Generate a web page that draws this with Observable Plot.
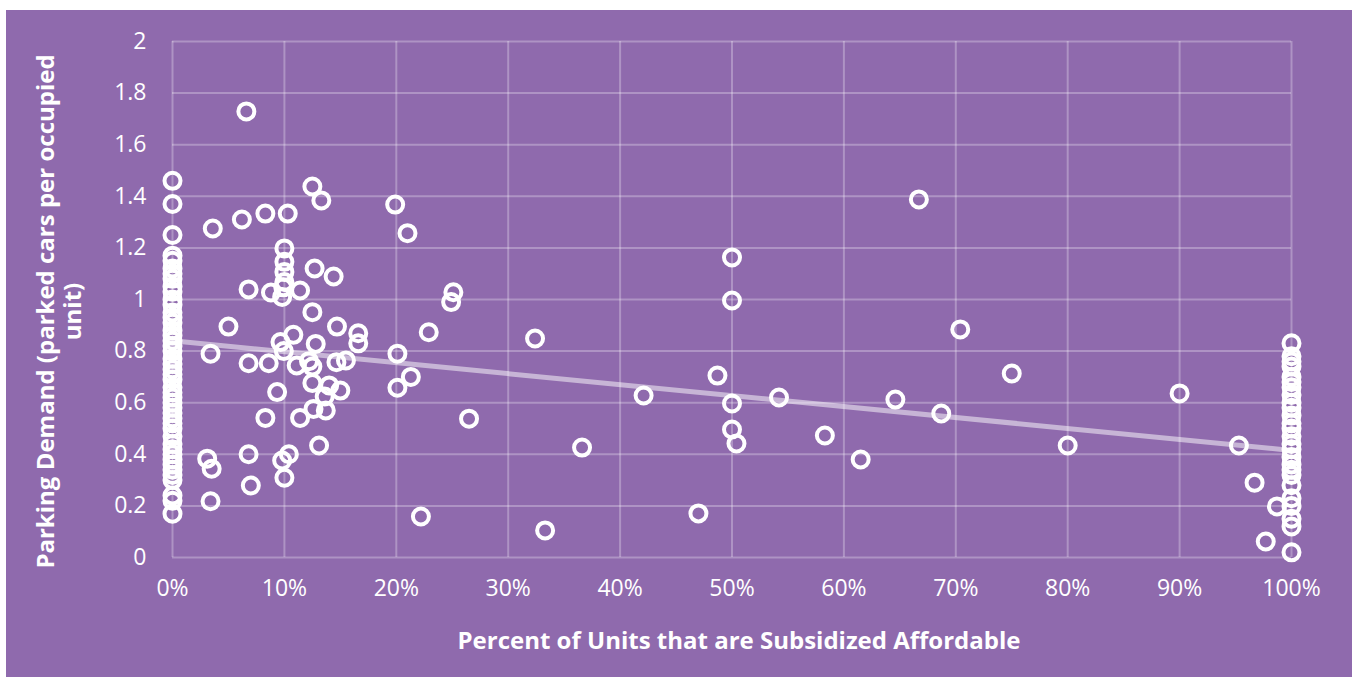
<!DOCTYPE html>
<html><head><meta charset="utf-8">
<script src="https://cdn.jsdelivr.net/npm/d3@7"></script>
<script src="https://cdn.jsdelivr.net/npm/@observablehq/plot@0.6"></script>
<style>
html,body{margin:0;padding:0;background:#fff;}
#chart{padding:10px 0 0 6px;}
svg{display:block;}
</style></head><body><div id="chart"></div>
<script>
// Share of units that are subsidized affordable (fraction) and parking demand
const zeroPctDemand = [1.46,1.37,1.25,1.17,1.15,1.12,1.10,1.08,1.05,1.03,1.00,0.98,0.95,0.93,0.91,0.88,0.86,0.84,0.82,0.80,0.77,0.75,0.73,0.71,0.69,0.66,0.64,0.62,0.60,0.58,0.56,0.54,0.52,0.50,0.47,0.44,0.42,0.40,0.38,0.36,0.34,0.32,0.30,0.24,0.22,0.17];
const fullPctDemand = [0.83,0.78,0.76,0.74,0.70,0.68,0.66,0.63,0.60,0.58,0.55,0.52,0.50,0.47,0.44,0.42,0.39,0.36,0.34,0.32,0.28,0.23,0.20,0.15,0.12,0.02];
const mixedPct = [3.1,3.5,3.4,3.4,3.6,5.0,6.2,6.6,6.8,6.8,6.8,7.0,8.3,8.3,8.6,8.8,9.35,9.65,9.8,9.8,9.95,10,10,10,10,10,9.9,10.3,10.4,10.8,11.1,11.4,11.4,12.2,12.5,12.5,12.5,12.5,12.6,12.7,12.8,13.1,13.3,13.6,13.7,14.0,14.4,14.65,14.7,15.0,15.5,16.6,16.6,19.9,20.1,20.1,21.0,21.3,22.2,22.9,24.9,25.1,26.5,32.4,33.3,36.6,42.1,47.0,48.7,50,50,50,50,50.4,54.2,58.3,61.5,64.6,66.7,68.7,70.4,75,80,90,95.3,96.7,97.7,98.7];
const mixedDemand = [0.383,0.344,0.218,0.79,1.275,0.895,1.31,1.729,1.039,0.753,0.40,0.279,1.333,0.541,0.753,1.027,0.641,0.835,1.01,0.376,0.80,0.309,1.198,1.146,1.107,1.068,1.047,1.333,0.40,0.863,0.744,1.035,0.541,0.761,1.438,0.951,0.74,0.676,0.576,1.12,0.828,0.434,1.384,0.624,0.57,0.667,1.089,0.757,0.895,0.647,0.764,0.869,0.83,1.368,0.79,0.658,1.257,0.70,0.159,0.873,0.99,1.028,0.538,0.849,0.105,0.426,0.628,0.171,0.705,1.163,0.996,0.597,0.496,0.442,0.62,0.473,0.38,0.612,1.388,0.558,0.884,0.713,0.434,0.636,0.434,0.29,0.062,0.198];
// Linear trendline (endpoints at 0% and 100%)
const trendPct = [0, 1];
const trendDemand = [0.84, 0.415];
const xTicks = [0,0.1,0.2,0.3,0.4,0.5,0.6,0.7,0.8,0.9,1];
const yTicks = [0,0.2,0.4,0.6,0.8,1,1.2,1.4,1.6,1.8,2];
const yTickLabels = ["0","0.2","0.4","0.6","0.8","1","1.2","1.4","1.6","1.8","2"];
const xTitle = "Percent of Units that are Subsidized Affordable";
const yTitle = "Parking Demand (parked cars per occupied\nunit)";

const points = [
  ...zeroPctDemand.map(y => ({x: 0, y})),
  ...fullPctDemand.map(y => ({x: 1, y})),
  ...mixedPct.map((p, i) => ({x: p / 100, y: mixedDemand[i]}))
];
const trend = trendPct.map((x, i) => ({x, y: trendDemand[i]}));

const chart = Plot.plot({
  width: 1346, height: 667,
  marginLeft: 166, marginRight: 61, marginTop: 31, marginBottom: 120,
  style: {background: "#8f6aad", fontFamily: "'Open Sans', sans-serif", fontSize: "23px", color: "#fff", overflow: "visible"},
  x: {domain: [0, 1], label: null},
  y: {domain: [0, 2], label: null},
  marks: [
    Plot.gridX(xTicks, {stroke: "#fff", strokeOpacity: 0.28, strokeWidth: 2}),
    Plot.gridY(yTicks, {stroke: "#fff", strokeOpacity: 0.28, strokeWidth: 2}),
    Plot.axisX(xTicks, {tickSize: 0, tickPadding: 22, tickFormat: d3.format(".0%"), fill: "#fff", fontSize: 23}),
    Plot.axisY(yTicks, {tickSize: 0, tickPadding: 26, tickFormat: (d) => yTickLabels[yTicks.indexOf(d)], fill: "#fff", fontSize: 23}),
    Plot.dot(points, {x: "x", y: "y", r: 8, stroke: "#fff", strokeWidth: 4, fill: "none"}),
    Plot.line(trend, {x: "x", y: "y", stroke: "#fff", strokeOpacity: 0.5, strokeWidth: 5}),
    Plot.text([xTitle], {text: d => d, frameAnchor: "bottom", lineAnchor: "middle", textAnchor: "middle", dx: 7, dy: 84, fontWeight: "bold", fontSize: 24, fill: "#fff"}),
    Plot.text([yTitle], {text: d => d, frameAnchor: "left", rotate: -90, textAnchor: "middle", lineAnchor: "middle", dx: -113.5, dy: 12, lineHeight: 1.125, fontWeight: "bold", fontSize: 24, fill: "#fff"})
  ]
});
document.getElementById("chart").appendChild(chart);
</script></body></html>
